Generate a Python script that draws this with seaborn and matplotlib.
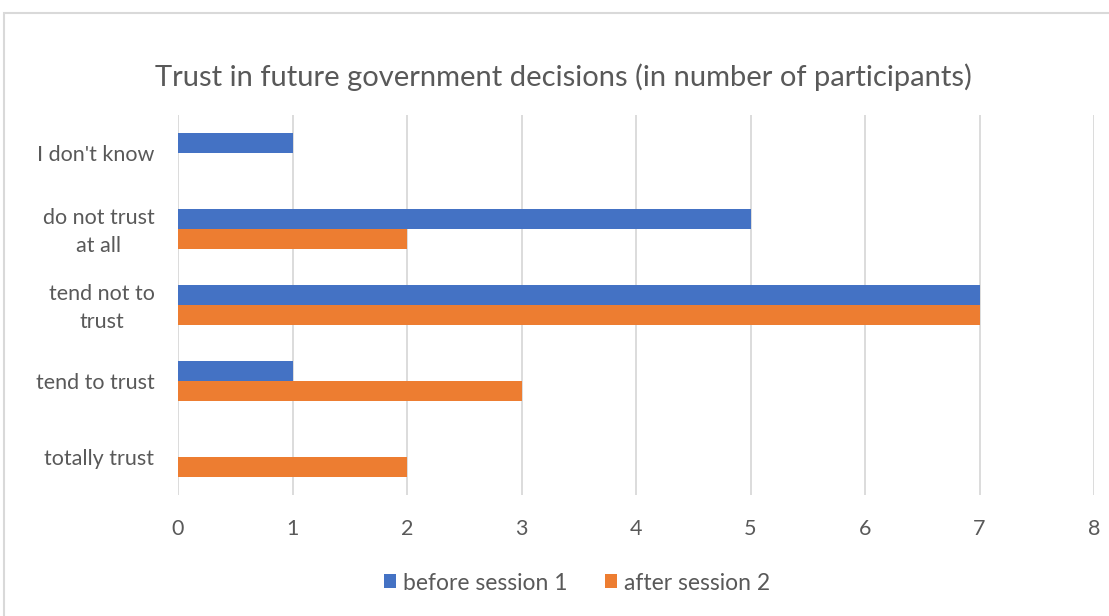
import matplotlib
matplotlib.use("Agg")
import matplotlib.pyplot as plt
import seaborn as sns
import pandas as pd
from matplotlib.patches import Rectangle

categories = ["I don't know", "do not trust\nat all", "tend not to\ntrust", "tend to trust", "totally trust"]
before_session_1 = [1, 5, 7, 1, 0]
after_session_2 = [0, 2, 7, 3, 2]
series_names = ["before session 1", "after session 2"]
xticks = [0, 1, 2, 3, 4, 5, 6, 7, 8]

df = pd.DataFrame({
    "category": categories * 2,
    "value": before_session_1 + after_session_2,
    "series": [series_names[0]] * len(categories) + [series_names[1]] * len(categories),
})

sns.set_theme(style="white")
plt.rcParams['font.family'] = ['Lato', 'DejaVu Sans']
txt = "#595959"

fig = plt.figure(figsize=(11.09, 6.16), dpi=100)
fig.patches.append(Rectangle((4 / 1109, -0.2), 1.2, 0.2 + (616 - 13) / 616, transform=fig.transFigure,
                             fill=False, edgecolor="#d9d9d9", linewidth=1.5))
ax = fig.add_axes([178 / 1109, 1 - 495 / 616, (1094 - 178) / 1109, (495 - 115) / 616])

sns.barplot(data=df, y="category", x="value", hue="series", order=categories,
            hue_order=series_names, palette=["#4472c4", "#ed7d31"], width=0.53,
            orient="h", ax=ax, saturation=1, legend=True, linewidth=0)

ax.set_xlim(0, 8)
ax.set_xticks(xticks)
ax.set_xticklabels([str(t) for t in xticks], color=txt, fontsize=15.5)
ax.tick_params(axis="y", labelsize=15.5, labelcolor=txt, pad=17, length=0)
ax.tick_params(axis="x", pad=17, length=0)
for lbl in ax.get_yticklabels():
    lbl.set_horizontalalignment("right")
    lbl.set_multialignment("center")
    lbl.set_linespacing(1.5)
    if "\n" in lbl.get_text():
        lbl.set_y(lbl.get_position()[1])
        lbl.set_transform(lbl.get_transform() + matplotlib.transforms.ScaledTranslation(0, 3 / 100, fig.dpi_scale_trans))
ax.set_xlabel("")
ax.set_ylabel("")
ax.grid(axis="x", color="#d9d9d9", linewidth=1.3)
ax.set_axisbelow(True)
for s in ax.spines.values():
    s.set_visible(False)

fig.text(563 / 1109, 1 - 77 / 616, "Trust in future government decisions (in number of participants)",
         ha="center", va="center", fontsize=21, color=txt)

handles, labels = ax.get_legend_handles_labels()
ax.legend_.remove()
fig.legend(handles, labels, loc="center", bbox_to_anchor=(577 / 1109, 1 - 583 / 616), ncol=2,
           frameon=False, fontsize=16.5, labelcolor=txt, handlelength=0.55, handleheight=0.55,
           handletextpad=0.3, columnspacing=1.6)

fig.savefig("out.png", dpi=100)
